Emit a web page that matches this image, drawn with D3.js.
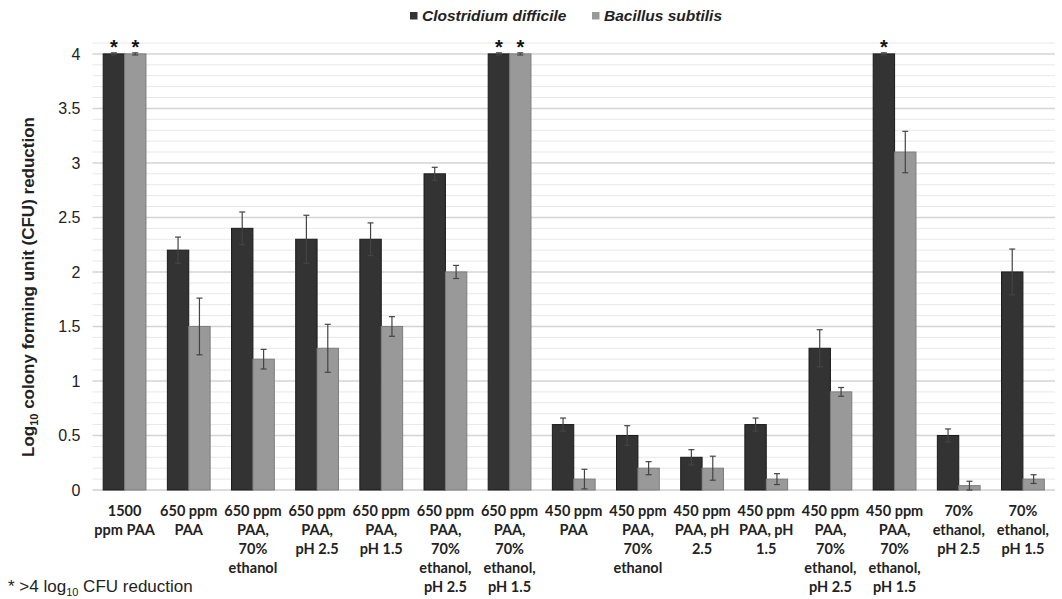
<!DOCTYPE html>
<html><head><meta charset="utf-8">
<script src="https://cdn.jsdelivr.net/npm/d3@7"></script>
<style>body{margin:0;background:#fff}svg{display:block}</style>
</head><body><svg id="c" width="1062" height="599"></svg>
<script>
const categories = [
  ["1500","ppm PAA"],["650 ppm","PAA"],["650 ppm","PAA,","70%","ethanol"],["650 ppm","PAA,","pH 2.5"],
  ["650 ppm","PAA,","pH 1.5"],["650 ppm","PAA,","70%","ethanol,","pH 2.5"],["650 ppm","PAA,","70%","ethanol,","pH 1.5"],
  ["450 ppm","PAA"],["450 ppm","PAA,","70%","ethanol"],["450 ppm","PAA, pH","2.5"],["450 ppm","PAA, pH","1.5"],
  ["450 ppm","PAA,","70%","ethanol,","pH 2.5"],["450 ppm","PAA,","70%","ethanol,","pH 1.5"],["70%","ethanol,","pH 2.5"],["70%","ethanol,","pH 1.5"]
];
const seriesNames = ["Clostridium difficile","Bacillus subtilis"];
const cdValues = [4, 2.2, 2.4, 2.3, 2.3, 2.9, 4, 0.6, 0.5, 0.3, 0.6, 1.3, 4, 0.5, 2.0];
const cdErrors = [0.01, 0.12, 0.15, 0.22, 0.15, 0.06, 0.01, 0.06, 0.09, 0.07, 0.06, 0.17, 0.01, 0.06, 0.21];
const bsValues = [4, 1.5, 1.2, 1.3, 1.5, 2.0, 4, 0.1, 0.2, 0.2, 0.1, 0.9, 3.1, 0.04, 0.1];
const bsErrors = [0.01, 0.26, 0.09, 0.22, 0.09, 0.06, 0.01, 0.09, 0.06, 0.11, 0.05, 0.04, 0.19, 0.04, 0.04];
const cdStar = [true,false,false,false,false,false,true,false,false,false,false,false,true,false,false];
const bsStar = [true,false,false,false,false,false,true,false,false,false,false,false,false,false,false];
const yTicks = [0,0.5,1,1.5,2,2.5,3,3.5,4];

const svg = d3.select("#c");
const L = 92.5, R = 1055, T = 43, B = 490;
const x = d3.scaleBand().domain(d3.range(categories.length)).range([L, R]).paddingInner(0).paddingOuter(0);
const x1 = d3.scaleBand().domain([0,1]).range([0, x.bandwidth()]).paddingInner(0).paddingOuter(0.5);
const y = d3.scaleLinear().domain([0, 4.1]).range([B, T]);

// gridlines
const g = svg.append("g");
g.selectAll("line.minor").data(d3.range(1, 42).filter(i => i % 5 !== 0).map(i => i / 10))
  .join("line").attr("x1", L).attr("x2", R).attr("y1", d => y(d)).attr("y2", d => y(d))
  .attr("stroke", "#e8e8e8").attr("stroke-width", 1);
g.selectAll("line.major").data(yTicks.filter(d => d > 0))
  .join("line").attr("x1", L).attr("x2", R).attr("y1", d => y(d)).attr("y2", d => y(d))
  .attr("stroke", "#d4d4d4").attr("stroke-width", 1.5);
g.append("line").attr("x1", L).attr("x2", R).attr("y1", y(0)).attr("y2", y(0)).attr("stroke", "#cfcfcf").attr("stroke-width", 1.5);

// y axis
const yAxis = d3.axisLeft(y).tickValues(yTicks).tickSize(0).tickPadding(12).tickFormat(d => d);
const ya = svg.append("g").attr("transform", `translate(${L},0)`).call(yAxis);
ya.select(".domain").remove();
ya.selectAll("text").attr("font-family", "Liberation Sans, Arial, sans-serif").attr("font-size", 16).attr("fill", "#222");

// bars
const series = [
  {name: seriesNames[0], vals: cdValues, errs: cdErrors, stars: cdStar, fill: "#333333", stroke: "#1a1a1a"},
  {name: seriesNames[1], vals: bsValues, errs: bsErrors, stars: bsStar, fill: "#999999", stroke: "#7d7d7d"}
];
series.forEach((s, si) => {
  const gs = svg.append("g");
  gs.selectAll("rect").data(s.vals).join("rect")
    .attr("x", (d, i) => x(i) + x1(si)).attr("width", x1.bandwidth())
    .attr("y", d => y(d)).attr("height", d => y(0) - y(d))
    .attr("fill", s.fill).attr("stroke", s.stroke).attr("stroke-width", 1);
  const eb = gs.selectAll("g.eb").data(s.vals.map((v, i) => ({v, e: s.errs[i], i}))).join("g");
  const cx = d => x(d.i) + x1(si) + x1.bandwidth() / 2;
  eb.append("line").attr("x1", cx).attr("x2", cx).attr("y1", d => y(d.v + d.e)).attr("y2", d => y(Math.max(0, d.v - d.e)))
    .attr("stroke", "#444").attr("stroke-width", 1.2);
  [1, -1].forEach(sg => {
    eb.append("line").attr("x1", d => cx(d) - 3).attr("x2", d => cx(d) + 3)
      .attr("y1", d => y(Math.max(0, d.v + sg * d.e))).attr("y2", d => y(Math.max(0, d.v + sg * d.e)))
      .attr("stroke", "#444").attr("stroke-width", 1.2);
  });
  gs.selectAll("text.star").data(s.vals.map((v, i) => ({v, i, st: s.stars[i]})).filter(d => d.st)).join("text")
    .attr("x", d => x(d.i) + x1(si) + x1.bandwidth() / 2).attr("y", d => y(d.v) + 0.5)
    .attr("text-anchor", "middle").attr("font-family", "Liberation Sans, Arial, sans-serif")
    .attr("font-size", 20).attr("font-weight", "bold").attr("fill", "#111").text("*");
});

// x labels
const xl = svg.append("g");
categories.forEach((lines, i) => {
  const t = xl.append("text").attr("x", x(i) + x.bandwidth() / 2).attr("y", 516)
    .attr("text-anchor", "middle").attr("font-family", "Lato, Open Sans, sans-serif")
    .attr("font-size", 14.5).attr("font-weight", "bold").attr("fill", "#222");
  lines.forEach((ln, k) => t.append("tspan").attr("x", x(i) + x.bandwidth() / 2).attr("dy", k === 0 ? 0 : 19).text(ln));
});

// y title
const yt = svg.append("text").attr("transform", "translate(34,287) rotate(-90)")
  .attr("text-anchor", "middle").attr("font-family", "Liberation Sans, Arial, sans-serif")
  .attr("font-size", 17).attr("font-weight", "bold").attr("fill", "#222");
yt.append("tspan").text("Log");
yt.append("tspan").attr("font-size", 11).attr("dy", 4).text("10");
yt.append("tspan").attr("dy", -4).text(" colony forming unit (CFU) reduction");

// legend
const lg = svg.append("g").attr("transform", "translate(410,21)");
const lx = [0, 182];
series.forEach((s, si) => {
  lg.append("rect").attr("x", lx[si]).attr("y", -9).attr("width", 7.5).attr("height", 7.5).attr("fill", s.fill);
  lg.append("text").attr("x", lx[si] + 12).attr("y", 0).attr("font-family", "Liberation Sans, Arial, sans-serif")
    .attr("font-size", 15.5).attr("font-weight", "bold").attr("font-style", "italic").attr("fill", "#222").text(s.name);
});

// footnote
const fn = svg.append("text").attr("x", 8).attr("y", 592).attr("font-family", "Liberation Sans, Arial, sans-serif")
  .attr("font-size", 17).attr("fill", "#222");
fn.append("tspan").text("* >4 log");
fn.append("tspan").attr("font-size", 11).attr("dy", 4).text("10");
fn.append("tspan").attr("dy", -4).text(" CFU reduction");
</script></body></html>
